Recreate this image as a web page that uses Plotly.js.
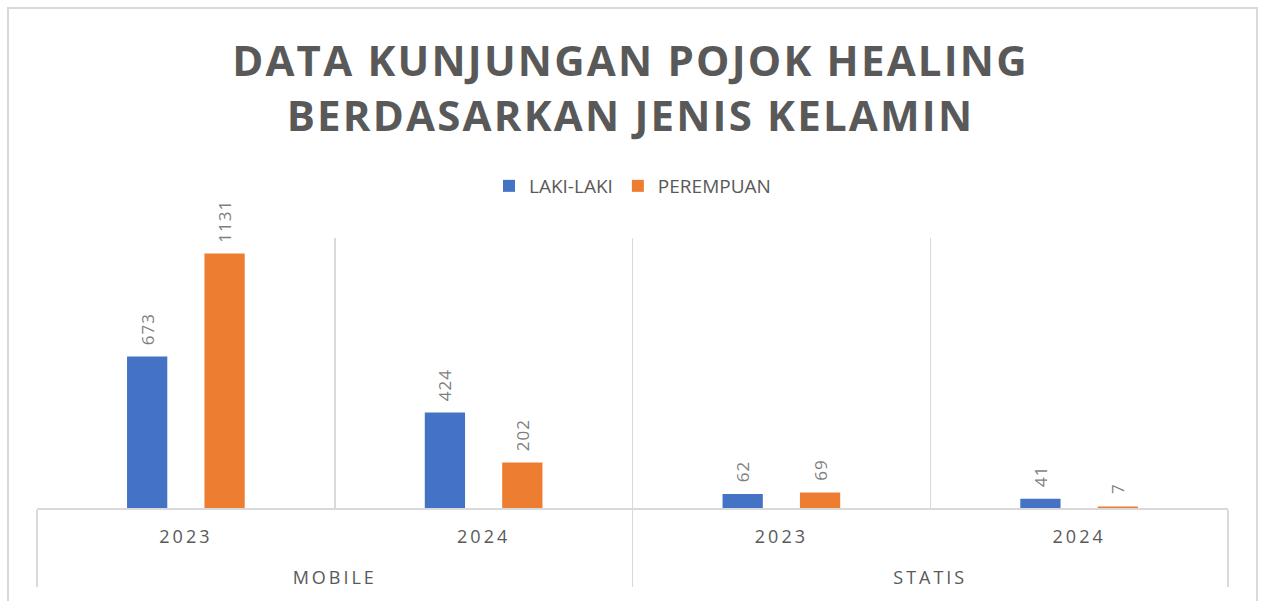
<!DOCTYPE html>
<html>
<head>
<meta charset="utf-8">
<script src="https://cdn.plot.ly/plotly-3.0.1.min.js"></script>
<style>
  html, body { margin: 0; padding: 0; background: #ffffff; width: 1261px; height: 601px; overflow: hidden; }
  #frame { position: absolute; left: 7px; top: 7px; width: 1251px; height: 620px; border: 2px solid #d9d9d9; box-sizing: border-box; }
  #chart { position: absolute; left: 0; top: 0; width: 1261px; height: 601px; }
  #chart .gtitle { letter-spacing: 2.2px; }
  #chart .xaxislayer-above text { letter-spacing: 3px; }
  #chart g.xtick { transform: translateY(11px); }
  #chart g.xtick2 { transform: translateY(3px); }
  #chart .bartext { letter-spacing: 1px; }
</style>
</head>
<body>
<div id="frame"></div>
<div id="chart"></div>
<script>
// Data
const groups = ["MOBILE", "MOBILE", "STATIS", "STATIS"];
const years = ["2023", "2024", "2023", "2024"];
const seriesNames = ["LAKI-LAKI", "PEREMPUAN"];
const lakiLaki = [673, 424, 62, 41];
const perempuan = [1131, 202, 69, 7];
const seriesColors = ["#4472c4", "#ed7d31"];

const labelFont = { family: "Open Sans, sans-serif", size: 17, color: "#7f7f7f" };
// inner-level labels carry an empty second line so the outer level sits lower
const yearLabels = years.map(y => y + "<br>\u00a0");

function makeTrace(name, values, color) {
  return {
    type: "bar",
    name: name,
    x: [groups, yearLabels],
    y: values,
    marker: { color: color },
    texttemplate: "\u00a0\u00a0%{y}",
    textposition: "outside",
    textangle: -90,
    textfont: labelFont,
    constraintext: "none",
    cliponaxis: false,
    hoverinfo: "skip"
  };
}

const data = [
  makeTrace(seriesNames[0], lakiLaki, seriesColors[0]),
  makeTrace(seriesNames[1], perempuan, seriesColors[1])
];

const layout = {
  width: 1261,
  height: 601,
  paper_bgcolor: "rgba(0,0,0,0)",
  plot_bgcolor: "rgba(0,0,0,0)",
  margin: { l: 37, r: 33, t: 238, b: 93 },
  font: { family: "Open Sans, sans-serif", color: "#595959" },
  title: {
    text: "DATA KUNJUNGAN POJOK HEALING<br>BERDASARKAN JENIS KELAMIN",
    font: { family: "Open Sans, sans-serif", size: 42, color: "#595959", weight: "bold" },
    x: 0.5,
    xanchor: "center",
    y: 1 - 76 / 601,
    yanchor: "middle"
  },
  showlegend: true,
  legend: {
    orientation: "h",
    x: 0.5,
    xanchor: "center",
    y: (508 - 186) / 270,
    yanchor: "middle",
    font: { family: "Open Sans, sans-serif", size: 19, color: "#595959" },
    itemwidth: 30,
    traceorder: "normal"
  },
  barmode: "group",
  bargap: 0.48,
  bargroupgap: 0.48,
  xaxis: {
    type: "multicategory",
    tickson: "boundaries",
    showgrid: true,
    gridcolor: "#d9d9d9",
    gridwidth: 1.5,
    showline: true,
    linecolor: "#d9d9d9",
    linewidth: 2,
    ticks: "outside",
    ticklen: 28,
    tickcolor: "rgba(0,0,0,0)",
    showdividers: true,
    dividercolor: "#d9d9d9",
    dividerwidth: 1.5,
    tickfont: { family: "Open Sans, sans-serif", size: 18, color: "#595959" }
  },
  yaxis: {
    range: [0, 1200],
    showgrid: false,
    zeroline: false,
    showline: false,
    showticklabels: false,
    ticks: ""
  }
};

Plotly.newPlot("chart", data, layout, { displayModeBar: false, staticPlot: true });
</script>
</body>
</html>
